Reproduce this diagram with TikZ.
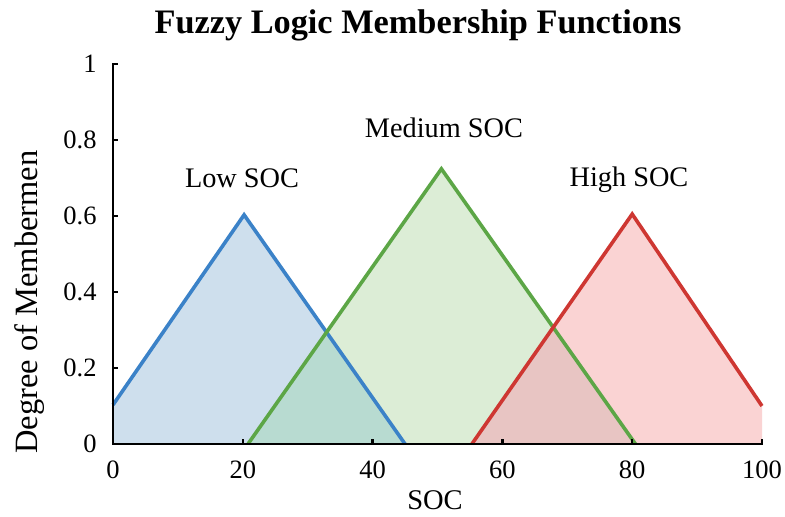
\documentclass[tikz,border=0pt]{standalone}
\usepackage{fontspec}
\setmainfont{Liberation Serif}
\definecolor{lowline}{RGB}{59,130,200}
\definecolor{medline}{RGB}{92,166,70}
\definecolor{highline}{RGB}{206,55,50}
\definecolor{lowfill}{RGB}{206,223,237}
\definecolor{medfill}{RGB}{220,237,214}
\definecolor{highfill}{RGB}{250,211,211}
\definecolor{lowmed}{RGB}{184,219,209}
\definecolor{medhigh}{RGB}{232,197,195}
\begin{document}
\begin{tikzpicture}[
  curve/.style={line width=3.6pt, line join=miter},
  axisline/.style={line width=2.4pt, black},
  ticklbl/.style={font=\fontsize{26.5}{30}\selectfont, inner sep=0pt},
  serieslbl/.style={font=\fontsize{28.3}{32}\selectfont, inner sep=0pt, anchor=base},
]
\useasboundingbox (0,0) rectangle (785pt,517pt);
\fill[white] (0,0) rectangle (785pt,517pt);

\node[font=\bfseries\fontsize{34.3}{38}\selectfont, inner sep=0pt, anchor=base] (title) at (418pt,483pt) {Fuzzy Logic Membership Functions};

\begin{scope}[shift={(113pt,73pt)}, x=6.49pt, y=380pt]
  % fills
  \fill[lowfill] (0,0) -- (0,0.103) -- (20.2,0.603) -- (45,0) -- cycle;
  \fill[medfill] (20.8,0) -- (50.6,0.724) -- (80.5,0) -- cycle;
  \fill[highfill] (55.3,0) -- (80,0.605) -- (100,0.1) -- (100,0) -- cycle;
  \fill[lowmed] (20.8,0) -- (32.9,0.294) -- (45,0) -- cycle;
  \fill[medhigh] (55.3,0) -- (67.83,0.3068) -- (80.5,0) -- cycle;
  % lines
  \draw[curve, lowline] (0,0.103) -- (20.2,0.603) -- (45,0);
  \draw[curve, medline] (20.8,0) -- (50.6,0.724) -- (80.5,0);
  \draw[curve, highline] (55.3,0) -- (80,0.605) -- (100,0.1);

  % axes
  \coordinate (o) at (0,0);
  \coordinate (ytop) at (0,1);
  \coordinate (xend) at (100,0);
  \draw[axisline, line cap=rect] (ytop) -- (o) -- (xend);
  \foreach \v in {0.2,0.4,0.6,0.8,1}
    \draw[axisline] (0,\v) -- ++(4.5pt,0);
  \foreach \u in {20,40,60,80,100}
    \draw[axisline] (\u,0) -- ++(0,4.5pt);

  % tick labels
  \node[ticklbl, anchor=east] (y0) at (-2.5,0) {0};
  \node[ticklbl, anchor=east] (y1) at (-2.5,0.2) {0.2};
  \node[ticklbl, anchor=east] (y2) at (-2.5,0.4) {0.4};
  \node[ticklbl, anchor=east] (y3) at (-2.5,0.6) {0.6};
  \node[ticklbl, anchor=east] (y4) at (-2.5,0.8) {0.8};
  \node[ticklbl, anchor=east] (y5) at (-2.5,1) {1};
  \foreach \u/\n in {0/x0,20/x1,40/x2,60/x3,80/x4,100/x5}
    \node[ticklbl] (\n) at (\u,-0.068) {\u};
\end{scope}

\node[font=\fontsize{28.5}{32}\selectfont, inner sep=0pt] (xlabel) at (435pt,17pt) {SOC};
\node[font=\fontsize{32.5}{36}\selectfont, inner sep=0pt, anchor=base, rotate=90] (ylabel) at (37pt,215pt) {Degree of Membermen};

\node[serieslbl] (low) at (242pt,329pt) {Low SOC};
\node[serieslbl] (med) at (444pt,379pt) {Medium SOC};
\node[serieslbl] (high) at (629pt,330pt) {High SOC};
\end{tikzpicture}
\end{document}
